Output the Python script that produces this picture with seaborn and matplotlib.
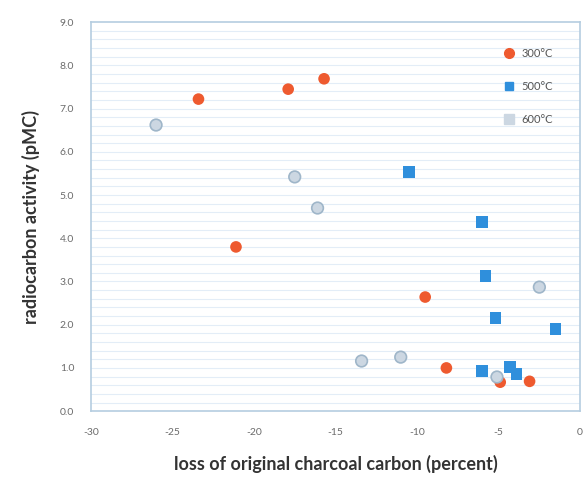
import numpy as np
import pandas as pd
import matplotlib
matplotlib.use("Agg")
import matplotlib.pyplot as plt
import seaborn as sns

x_300 = [-23.4, -17.9, -15.7, -21.1, -9.5, -8.2, -4.9, -3.1]
y_300 = [7.22, 7.45, 7.69, 3.80, 2.64, 1.00, 0.67, 0.69]
x_500 = [-10.5, -6.0, -5.8, -5.2, -1.5, -6.0, -4.3, -3.9]
y_500 = [5.53, 4.37, 3.12, 2.15, 1.90, 0.93, 1.02, 0.86]
x_600 = [-26.0, -17.5, -16.1, -13.4, -11.0, -2.5, -5.1]
y_600 = [6.62, 5.42, 4.70, 1.16, 1.25, 2.87, 0.79]
series = ["300°C", "500°C", "600°C"]
x_ticks = [-30, -25, -20, -15, -10, -5, 0]
y_ticks = [0, 1, 2, 3, 4, 5, 6, 7, 8, 9]

df = pd.DataFrame({
    "x": x_300 + x_500 + x_600,
    "y": y_300 + y_500 + y_600,
    "series": [series[0]] * len(x_300) + [series[1]] * len(x_500) + [series[2]] * len(x_600),
})

sns.set_theme(style="white")
plt.rcParams['font.family'] = ['Lato', 'DejaVu Sans']
fig = plt.figure(figsize=(5.86, 4.82), dpi=100)
ax = fig.add_axes([0.155, 0.147, 0.835, 0.807])

for yy in np.arange(0.2, 9.0, 0.2):
    ax.axhline(yy, color="#e3edf7", lw=0.8, zorder=0)

palette = {"300°C": "#ee5a2f", "500°C": "#2f8fdc", "600°C": "#ccd7e2"}
markers = {"300°C": "o", "500°C": "s", "600°C": "o"}
sns.scatterplot(data=df, x="x", y="y", hue="series", style="series",
                palette=palette, markers=markers, s=70,
                edgecolor="none", ax=ax, zorder=3, legend=False)
sub = df[df.series == "600°C"]
ax.scatter(sub.x, sub.y, s=70, facecolor="none", edgecolor="#9fb6c9", lw=1.2, zorder=4)

ax.set_xlim(-30, 0)
ax.set_ylim(0, 9)
ax.set_xticks(x_ticks)
ax.set_xticklabels([str(t) for t in x_ticks])
ax.set_yticks(y_ticks)
ax.set_yticklabels([f"{t:.1f}" for t in y_ticks])
ax.tick_params(axis="both", labelsize=7.5, colors="#6b6b6b", pad=6)
for sp in ax.spines.values():
    sp.set_color("#b5cde0")
    sp.set_linewidth(1.2)
ax.set_xlabel("loss of original charcoal carbon (percent)", fontsize=13,
              fontweight="bold", color="#333333", labelpad=13)
ax.set_ylabel("radiocarbon activity (pMC)", fontsize=13,
              fontweight="bold", color="#333333", labelpad=14)

from matplotlib.lines import Line2D
handles = [Line2D([], [], marker="o", ls="", color="#ee5a2f", ms=7),
           Line2D([], [], marker="s", ls="", color="#2f8fdc", ms=6),
           Line2D([], [], marker="s", ls="", color="#ccd7e2", ms=7)]
ax.legend(handles, series, loc="upper right", bbox_to_anchor=(0.965, 0.96),
          frameon=False, fontsize=8, labelspacing=2.0, handletextpad=0.1,
          labelcolor="#555555")

fig.savefig("out.png", dpi=100)
